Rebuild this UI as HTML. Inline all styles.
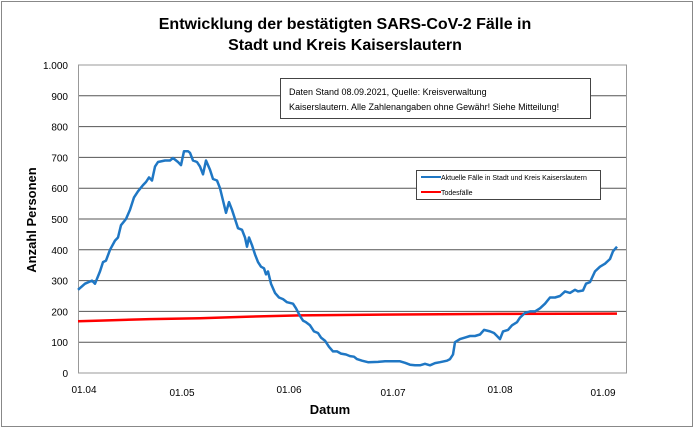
<!DOCTYPE html>
<html><head><meta charset="utf-8"><style>
body{margin:0;background:#fff;}
svg{display:block;font-family:"Liberation Sans",Arial,sans-serif;}
</style></head><body>
<svg id="s" width="696" height="430" viewBox="0 0 696 430">
<rect x="1.5" y="1.5" width="691" height="425" fill="#fff" stroke="#888" stroke-width="1"/>
<text x="345" y="29" font-size="16" font-weight="bold" text-anchor="middle">Entwicklung der bestätigten SARS-CoV-2 Fälle in</text>
<text x="345" y="50" font-size="16" font-weight="bold" text-anchor="middle">Stadt und Kreis Kaiserslautern</text>
<g id="grid" stroke="#555" stroke-width="1"></g>
<rect x="78.5" y="65" width="548" height="308" fill="none" stroke="#999"/>
<g id="yl" font-size="10" text-anchor="end"></g>
<g font-size="10" text-anchor="middle">
<text x="84" y="393">01.04</text><text x="182" y="396">01.05</text><text x="289" y="393">01.06</text>
<text x="393" y="396">01.07</text><text x="500" y="393">01.08</text><text x="603" y="396">01.09</text>
</g>
<text x="330" y="414" font-size="13" font-weight="bold" text-anchor="middle">Datum</text>
<text transform="translate(36,220) rotate(-90)" font-size="13" font-weight="bold" text-anchor="middle">Anzahl Personen</text>
<rect x="280.5" y="78.5" width="310" height="40" fill="#fff" stroke="#444"/>
<text x="289" y="95" font-size="9">Daten Stand 08.09.2021, Quelle: Kreisverwaltung</text>
<text x="289" y="110" font-size="9">Kaiserslautern. Alle Zahlenangaben ohne Gewähr! Siehe Mitteilung!</text>
<rect x="416.5" y="170.5" width="184" height="29" fill="#fff" stroke="#444"/>
<line x1="421" y1="177" x2="441" y2="177" stroke="#1f77c4" stroke-width="2"/>
<line x1="421" y1="192" x2="441" y2="192" stroke="#ff0000" stroke-width="2"/>
<text x="441" y="180" font-size="7">Aktuelle Fälle in Stadt und Kreis Kaiserslautern</text>
<text x="441" y="195" font-size="7">Todesfälle</text>
<polyline id="red" fill="none" stroke="#ff0000" stroke-width="2.5"/>
<polyline id="blue" fill="none" stroke="#1f77c4" stroke-width="2.5" stroke-linejoin="round"/>
</svg>
<script>
var ns="http://www.w3.org/2000/svg";
function Y(v){return 373-v*0.308;}
var g=document.getElementById('grid'),yl=document.getElementById('yl');
for(var v=0;v<=1000;v+=100){var y=Y(v);
 if(v>0&&v<1000){var l=document.createElementNS(ns,'line');l.setAttribute('x1',78);l.setAttribute('x2',627);l.setAttribute('y1',y);l.setAttribute('y2',y);g.appendChild(l);}
 var t=document.createElementNS(ns,'text');t.setAttribute('x',68);t.setAttribute('y',y+4);t.textContent=v==1000?'1.000':v;yl.appendChild(t);}
var b=[78,270,85,290,92,300,95,290,100,330,103,360,106,365,110,400,115,430,118,440,121,480,126,500,130,530,134,570,138,590,143,610,146,620,149,635,152,625,155,670,158,685,165,690,170,690,173,698,178,685,181,675,184,720,188,720,190,715,193,690,197,685,200,670,203,645,206,690,210,660,213,630,217,625,220,600,223,560,226,520,229,555,232,530,235,500,238,470,242,465,245,440,247,410,249,440,252,415,255,385,258,360,261,345,264,340,266,320,268,330,271,290,275,260,279,245,283,240,287,230,293,225,296,210,300,185,303,170,306,165,310,155,314,135,318,130,321,115,325,105,329,85,333,70,337,70,341,63,346,60,350,55,354,53,357,45,362,40,368,35,378,36,385,38,395,38,400,38,405,33,410,27,415,25,420,25,425,30,430,25,435,32,440,35,447,40,450,45,453,60,455,100,460,110,465,115,470,120,475,120,480,125,484,140,490,135,494,130,497,120,500,110,503,135,508,140,512,155,517,165,520,180,525,195,530,200,535,200,540,210,545,225,550,245,555,245,560,250,565,265,570,260,575,270,578,265,583,268,586,290,590,295,595,330,600,345,605,355,610,370,613,395,617,410];
var r=[78,168,100,170,150,175,200,178,250,183,300,187,400,190,500,192,617,193];
function pts(a){var s=[];for(var i=0;i<a.length;i+=2)s.push(a[i]+','+Y(a[i+1]).toFixed(1));return s.join(' ');}
document.getElementById('blue').setAttribute('points',pts(b));
document.getElementById('red').setAttribute('points',pts(r));
</script>
</body></html>
